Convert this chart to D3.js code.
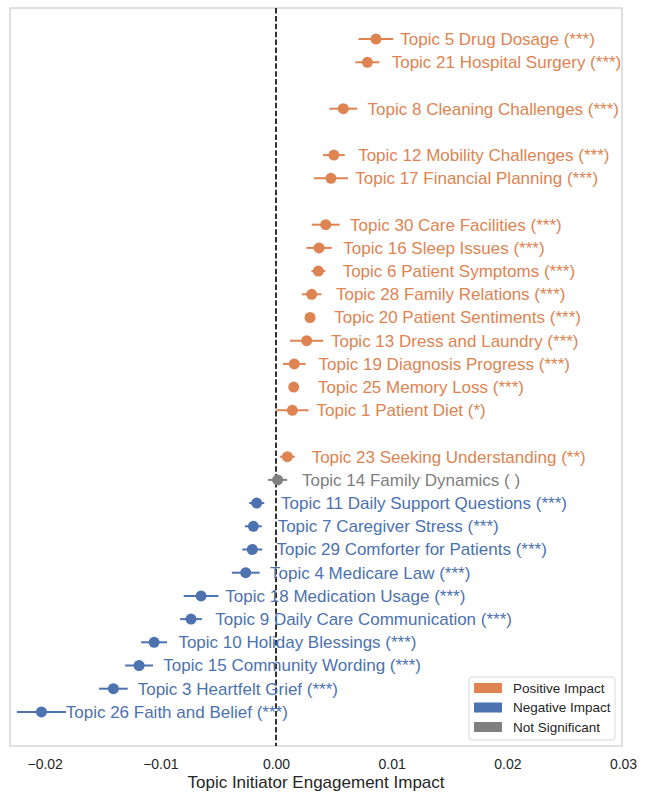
<!DOCTYPE html>
<html>
<head>
<meta charset="utf-8">
<script src="https://cdn.jsdelivr.net/npm/d3@7"></script>
<style>
  body { margin: 0; background: #fff; }
  text { font-family: "Liberation Sans", Arial, sans-serif; }
</style>
</head>
<body>
<div id="chart"></div>
<script>
// rows top to bottom, null = empty slot
var topicLabels = ["Topic 5 Drug Dosage", "Topic 21 Hospital Surgery", null, "Topic 8 Cleaning Challenges", null,
    "Topic 12 Mobility Challenges", "Topic 17 Financial Planning", null, "Topic 30 Care Facilities",
    "Topic 16 Sleep Issues", "Topic 6 Patient Symptoms", "Topic 28 Family Relations", "Topic 20 Patient Sentiments",
    "Topic 13 Dress and Laundry", "Topic 19 Diagnosis Progress", "Topic 25 Memory Loss", "Topic 1 Patient Diet", null,
    "Topic 23 Seeking Understanding", "Topic 14 Family Dynamics", "Topic 11 Daily Support Questions",
    "Topic 7 Caregiver Stress", "Topic 29 Comforter for Patients", "Topic 4 Medicare Law", "Topic 18 Medication Usage",
    "Topic 9 Daily Care Communication", "Topic 10 Holiday Blessings", "Topic 15 Community Wording",
    "Topic 3 Heartfelt Grief", "Topic 26 Faith and Belief"];
var coefs = [0.00864, 0.0079, null, 0.00582, null, 0.0050, 0.00475, null, 0.0043, 0.00372, 0.00366, 0.00308, 0.00294,
    0.00265, 0.00158, 0.00153, 0.00141, null, 0.00098, 0.00014, -0.00167, -0.00196, -0.00205, -0.00262, -0.00648,
    -0.00735, -0.01054, -0.01184, -0.01406, -0.02028];
var errs = [0.0015, 0.00104, null, 0.0012, null, 0.00094, 0.00147, null, 0.0012, 0.0011, 0.0006, 0.00084, 0.0003,
    0.00144, 0.00097, 0.0003, 0.0014, null, 0.00065, 0.00083, 0.00065, 0.00073, 0.00086, 0.0012, 0.0015, 0.00094,
    0.00112, 0.0012, 0.00124, 0.00212];
var stars = ["***", "***", null, "***", null, "***", "***", null, "***", "***", "***", "***", "***", "***", "***", "***",
    "*", null, "**", "", "***", "***", "***", "***", "***", "***", "***", "***", "***", "***"];

var xTicks = [-0.02, -0.01, 0, 0.01, 0.02, 0.03];
var legendLabels = ["Positive Impact", "Negative Impact", "Not Significant"];
var colors = {"Positive Impact": "#dd8452", "Negative Impact": "#4c72b0", "Not Significant": "#808080"};

var svgWidth = 645, svgHeight = 795;
var frame = {left: 10, top: 8, right: 622, bottom: 746};

var svg = d3.select("#chart").append("svg")
    .attr("width", svgWidth)
    .attr("height", svgHeight);

var x = d3.scaleLinear().domain([-0.023, 0.03]).range([frame.left, 623]);
var y = d3.scaleLinear().domain([-1.34, topicLabels.length + 0.47]).range([frame.top, frame.bottom]);

var data = topicLabels.map(function(t, i) {
    return {label: t, coef: coefs[i], err: errs[i], stars: stars[i], row: i};
}).filter(d => d.label !== null);

data.forEach(function(d) {
    if (d.stars === "") d.cat = "Not Significant";
    else d.cat = d.coef > 0 ? "Positive Impact" : "Negative Impact";
});

// frame
svg.append("rect")
    .attr("x", frame.left).attr("y", frame.top)
    .attr("width", frame.right - frame.left).attr("height", frame.bottom - frame.top)
    .attr("fill", "none").attr("stroke", "#cccccc").attr("stroke-width", 1.25);

// zero line
svg.append("line")
    .attr("x1", x(0)).attr("x2", x(0))
    .attr("y1", frame.top).attr("y2", frame.bottom)
    .attr("stroke", "#000").attr("stroke-width", 1.6)
    .attr("stroke-dasharray", "5.5,2.4");

var g = svg.append("g");

g.selectAll("line.err").data(data).enter().append("line")
    .attr("class", "err")
    .attr("x1", d => x(d.coef - d.err)).attr("x2", d => x(d.coef + d.err))
    .attr("y1", d => y(d.row)).attr("y2", d => y(d.row))
    .attr("stroke", d => colors[d.cat]).attr("stroke-width", 2);

g.selectAll("circle").data(data).enter().append("circle")
    .attr("cx", d => x(d.coef)).attr("cy", d => y(d.row))
    .attr("r", 5.5)
    .attr("fill", d => colors[d.cat]);

g.selectAll("text.lab").data(data).enter().append("text")
    .attr("class", "lab")
    .attr("x", d => x(d.coef + 0.0021))
    .attr("y", d => y(d.row))
    .attr("dy", "0.35em")
    .attr("font-size", "17px")
    .attr("fill", d => colors[d.cat])
    .text(d => d.label + " (" + (d.stars === "" ? " " : d.stars) + ")");

// x axis
var xAxis = svg.append("g")
    .attr("transform", `translate(0, ${frame.bottom})`)
    .call(d3.axisBottom(x).tickValues(xTicks).tickFormat(d3.format(".2f")).tickSize(0).tickPadding(13));
xAxis.select(".domain").remove();
xAxis.selectAll("text")
    .attr("font-size", "14px")
    .attr("fill", "#262626")
    .style("font-family", "'Liberation Sans', Arial, sans-serif");

svg.append("text")
    .attr("x", (frame.left + frame.right) / 2)
    .attr("y", 788)
    .attr("text-anchor", "middle")
    .attr("font-size", "17px")
    .attr("fill", "#262626")
    .text("Topic Initiator Engagement Impact");

// legend
var legend = svg.append("g").attr("transform", "translate(469, 677)");
legend.append("rect")
    .attr("width", 146).attr("height", 63)
    .attr("rx", 3)
    .attr("fill", "#fff").attr("fill-opacity", 0.8)
    .attr("stroke", "#d9d9d9").attr("stroke-width", 1);
legendLabels.forEach(function(lab, i) {
    var row = legend.append("g").attr("transform", `translate(5, ${11 + i * 19.5})`);
    row.append("rect")
        .attr("x", 0).attr("y", -5)
        .attr("width", 28).attr("height", 10)
        .attr("fill", colors[lab]);
    row.append("text")
        .attr("x", 39).attr("y", 0).attr("dy", "0.35em")
        .attr("font-size", "13.5px")
        .attr("fill", "#262626")
        .text(lab);
});
</script>
</body>
</html>
